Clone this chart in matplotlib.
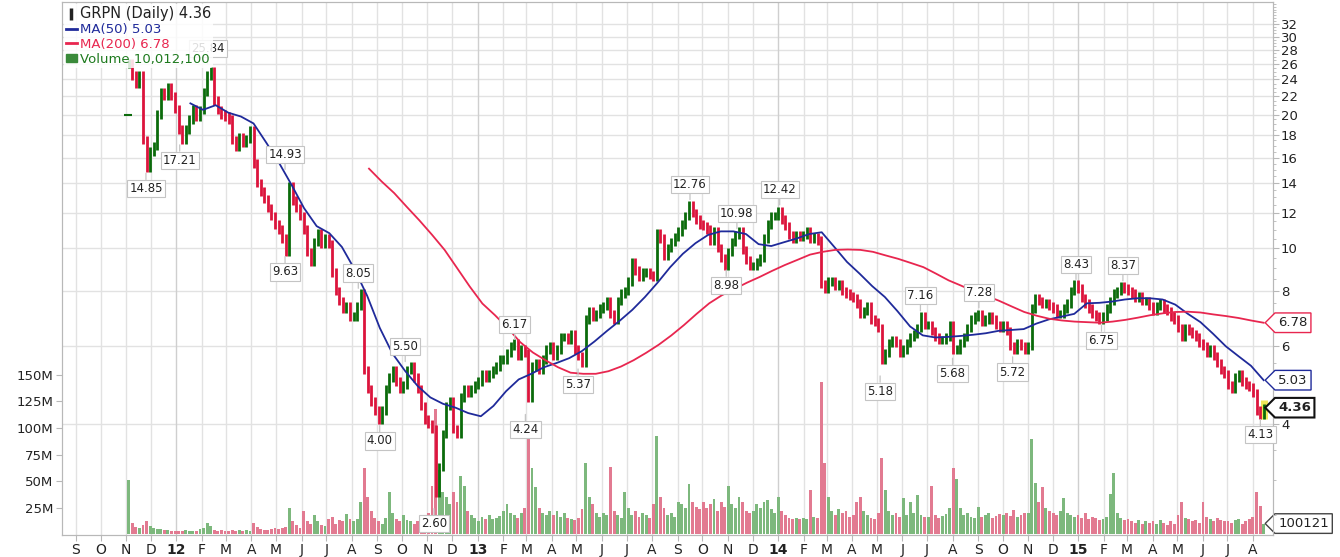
import numpy as np
import pandas as pd
import matplotlib
matplotlib.use('Agg')
import matplotlib.pyplot as plt
import matplotlib.transforms as mtransforms
from matplotlib.lines import Line2D
from matplotlib.patches import Patch
from matplotlib.path import Path
from matplotlib.ticker import FixedLocator, NullFormatter

# Cierres (~7 por mes, desde la IPO del 4 nov 2011 hasta 14 ago 2015)
close_2011 = [26.1, 24.5, 23.5, 24.5, 17.5, 15.2, 16.5,
              17.0, 20.0, 22.5, 22.0, 23.0, 22.0, 20.6]
close_2012 = [18.5, 17.5, 18.5, 19.5, 20.6, 19.8, 20.5,
              22.5, 24.5, 25.0, 21.5, 20.5, 20.0, 19.8,
              19.5, 17.5, 16.9, 17.8, 17.3, 17.6, 18.4,
              15.5, 14.0, 13.4, 12.9, 12.3, 11.8, 11.3,
              11.0, 10.5, 9.8, 13.8, 12.8, 12.3, 11.8,
              11.0, 9.8, 9.3, 10.3, 10.8, 10.2, 10.5,
              10.2, 8.8, 8.0, 7.6, 7.3, 7.4, 7.0,
              7.0, 7.4, 7.9, 5.3, 4.8, 4.5, 4.3,
              4.1, 4.3, 4.8, 5.1, 5.3, 5.0, 4.8,
              4.9, 5.3, 5.4, 5.1, 4.8, 4.4, 4.1,
              4.0, 3.9, 2.8, 3.2, 3.8, 4.4, 4.5,
              3.9, 3.8, 4.6, 4.8, 4.7, 4.8, 4.9]
close_2013 = [5.0, 5.2, 5.1, 5.2, 5.3, 5.4, 5.6,
              5.6, 5.8, 6.0, 6.1, 5.7, 5.9, 5.8,
              4.6, 5.4, 5.5, 5.3, 5.6, 5.9, 6.0,
              5.7, 5.9, 6.3, 6.3, 6.2, 6.4, 5.9,
              5.7, 5.5, 6.9, 7.2, 7.0, 7.1, 7.3,
              7.4, 7.6, 7.1, 6.9, 7.6, 7.9, 8.0,
              8.4, 9.3, 8.9, 8.6, 8.8, 8.8, 8.7,
              8.6, 10.8, 10.5, 9.6, 10.0, 10.3, 10.6,
              10.9, 11.3, 11.8, 12.5, 12.0, 11.6, 11.3,
              11.2, 11.0, 10.4, 10.9, 10.0, 9.5, 9.1,
              9.8, 10.3, 10.7, 10.9, 9.9, 9.4, 9.1,
              9.1, 9.3, 9.5, 10.5, 11.3, 11.8, 11.8]
close_2014 = [12.1, 11.6, 11.2, 10.7, 10.5, 10.7, 10.6,
              10.7, 10.9, 10.5, 10.6, 10.4, 8.3, 8.1,
              8.4, 8.4, 8.2, 8.3, 8.0, 7.9, 7.8,
              7.7, 7.5, 7.1, 7.2, 7.4, 6.9, 6.8,
              6.6, 5.6, 5.8, 6.1, 6.2, 6.1, 5.8,
              5.9, 6.1, 6.3, 6.4, 6.6, 7.0, 6.7,
              6.7, 6.5, 6.3, 6.2, 6.2, 6.3, 6.7,
              5.9, 5.9, 6.1, 6.3, 6.6, 6.9, 7.0,
              7.1, 6.8, 6.9, 7.0, 6.9, 6.7, 6.6,
              6.7, 6.5, 6.0, 5.9, 6.1, 6.0, 5.9,
              6.0, 7.3, 7.7, 7.6, 7.5, 7.5, 7.4,
              7.3, 7.1, 7.1, 7.3, 7.5, 8.0, 8.3]
close_2015 = [8.1, 7.7, 7.5, 7.3, 7.1, 7.0, 6.9,
              7.0, 7.3, 7.6, 7.9, 8.0, 8.2, 8.1,
              8.0, 7.9, 7.7, 7.8, 7.6, 7.6, 7.4,
              7.2, 7.4, 7.5, 7.3, 7.2, 7.0, 6.9,
              6.6, 6.3, 6.6, 6.5, 6.4, 6.3, 6.1,
              6.0, 5.8, 5.9, 5.7, 5.5, 5.3, 5.2,
              4.9, 4.8, 5.1, 5.2, 5.0, 4.9, 4.85,
              4.7, 4.3, 4.2, 4.36]

# Volumen (millones) en las mismas fechas
vol_2011 = [51, 11, 7, 6, 9, 12, 8,
            6, 5, 5, 4, 4, 3, 3]
vol_2012 = [3, 3, 4, 3, 3, 3, 5,
            6, 11, 8, 4, 3, 4, 3,
            3, 4, 3, 4, 3, 4, 3,
            11, 7, 5, 4, 4, 5, 6,
            5, 6, 7, 25, 12, 9, 6,
            22, 12, 10, 18, 12, 9, 8,
            14, 16, 10, 13, 12, 19, 14,
            12, 14, 30, 62, 35, 22, 15,
            12, 10, 15, 40, 20, 14, 12,
            18, 13, 12, 10, 12, 10, 14,
            20, 45, 118, 60, 40, 35, 28,
            40, 30, 55, 45, 22, 18, 15]
vol_2013 = [12, 16, 14, 18, 14, 15, 17,
            22, 28, 20, 18, 15, 20, 25,
            95, 62, 44, 25, 20, 18, 22,
            18, 22, 16, 20, 15, 14, 13,
            15, 24, 67, 35, 28, 20, 16,
            20, 18, 63, 22, 18, 15, 40,
            25, 18, 22, 16, 20, 18, 15,
            28, 92, 35, 25, 18, 20, 16,
            30, 28, 25, 47, 30, 26, 24,
            30, 25, 28, 33, 22, 30, 26,
            45, 28, 25, 35, 30, 22, 20,
            22, 28, 25, 30, 32, 24, 20]
vol_2014 = [35, 22, 18, 15, 14, 15, 14,
            15, 14, 42, 16, 15, 143, 67,
            35, 22, 18, 24, 20, 22, 16,
            18, 30, 35, 22, 18, 15, 14,
            20, 72, 42, 22, 18, 20, 16,
            34, 18, 30, 20, 37, 18, 16,
            16, 45, 18, 15, 17, 19, 25,
            62, 52, 25, 18, 20, 16, 15,
            26, 16, 18, 20, 15, 17, 19,
            18, 20, 17, 23, 16, 18, 20,
            20, 90, 48, 30, 44, 25, 22,
            20, 18, 22, 34, 20, 18, 16]
vol_2015 = [18, 15, 20, 14, 16, 15, 13,
            14, 16, 38, 58, 20, 15, 13,
            14, 12, 11, 13, 10, 12, 11,
            12, 10, 13, 11, 9, 12, 10,
            18, 30, 15, 14, 12, 13, 11,
            30, 16, 14, 12, 15, 13, 12,
            12, 11, 13, 14, 10, 12, 14,
            16, 40, 27, 10.0121]

# Medias moviles (aprox. cada quincena)
ma50 = [21.2, 20.5, 21.0, 20.2, 19.8, 19.1, 17.3, 15.6, 13.9, 12.3, 11.2, 10.8,
        10.05, 8.95, 7.8, 6.6, 5.78, 5.28, 4.88, 4.6, 4.45, 4.36, 4.24, 4.17,
        4.4, 4.75, 5.05, 5.2, 5.38, 5.5, 5.64, 5.85, 6.15, 6.5, 6.85, 7.25,
        7.75, 8.35, 9.05, 9.7, 10.25, 10.7, 10.9, 10.9, 10.75, 10.2, 10.1, 10.3,
        10.5, 10.75, 10.85, 10.05, 9.3, 8.75, 8.2, 7.75, 7.2, 6.65, 6.35, 6.28,
        6.3, 6.33, 6.37, 6.42, 6.5, 6.53, 6.56, 6.75, 6.9, 7.0, 7.1, 7.5,
        7.52, 7.57, 7.65, 7.7, 7.7, 7.65, 7.45, 7.1, 6.8, 6.4, 6.0, 5.7,
        5.42, 5.03]
ma200 = [15.1, 14.13, 13.3, 12.38, 11.54, 10.71, 9.9, 9.0, 8.18, 7.49, 7.05, 6.6,
         6.13, 5.81, 5.58, 5.38, 5.23, 5.2, 5.2, 5.27, 5.4, 5.58, 5.8, 6.05,
         6.35, 6.7, 7.1, 7.5, 7.82, 8.08, 8.35, 8.6, 8.88, 9.15, 9.4, 9.66,
         9.8, 9.9, 9.92, 9.9, 9.8, 9.62, 9.45, 9.25, 9.05, 8.75, 8.45, 8.22,
         7.98, 7.8, 7.6, 7.38, 7.17, 7.03, 6.92, 6.86, 6.82, 6.8, 6.78, 6.82,
         6.88, 6.96, 7.05, 7.12, 7.17, 7.18, 7.15, 7.08, 7.02, 6.95, 6.86, 6.78]

# Maximos y minimos marcados
ann_dates = ['2011-11-25', '2012-01-05', '2012-02-08', '2012-05-12', '2012-05-12',
             '2012-08-09', '2012-09-04', '2012-10-05', '2012-11-09', '2013-02-15',
             '2013-02-28', '2013-05-03', '2013-09-16', '2013-10-30', '2013-11-12',
             '2014-01-03', '2014-05-05', '2014-06-23', '2014-08-01', '2014-09-02',
             '2014-10-13', '2014-12-29', '2015-01-29', '2015-02-24', '2015-08-10']
ann_vals = [14.85, 17.21, 25.84, 14.93, 9.63, 8.05, 4.00, 5.50, 2.60, 6.17,
            4.24, 5.37, 12.76, 8.98, 10.98, 12.42, 5.18, 7.16, 5.68, 7.28,
            5.72, 8.43, 6.75, 8.37, 4.13]
ann_side = ['dn', 'dn', 'up', 'up', 'dn', 'up', 'dn', 'up', 'dn', 'up',
            'dn', 'dn', 'up', 'dn', 'up', 'up', 'dn', 'up', 'dn', 'up',
            'dn', 'up', 'dn', 'up', 'dn']

ipo_date = '2011-11-03'
ipo_price = 20.0

price_ticks = [4, 6, 8, 10, 12, 14, 16, 18, 20, 22, 24, 26, 28, 30, 32]
vol_ticks = [25, 50, 75, 100, 125, 150]

# Colores
green = '#0b6b0b'
red = '#dc143c'
vol_green = '#7db87d'
vol_red = '#e27a91'
blue_ma = '#1f2a9a'
red_ma = '#e8264f'
grid_c = '#e2e2e2'
frame_c = '#b8b8b8'


def tag_box(x0, y0, width, height, mutation_size):
    # caja con punta a la izquierda para los ultimos valores
    pad = 0.25 * mutation_size
    x0, y0 = x0 - pad, y0 - pad
    x1, y1 = x0 + width + 2 * pad, y0 + height + 2 * pad
    tip = (y1 - y0) / 2
    verts = [(x0, y0), (x1, y0), (x1, y1), (x0, y1), (x0 - tip, (y0 + y1) / 2), (x0, y0)]
    return Path(verts, closed=True)


close = np.array(close_2011 + close_2012 + close_2013 + close_2014 + close_2015)
vol = np.array(vol_2011 + vol_2012 + vol_2013 + vol_2014 + vol_2015) * 1e6
dates = pd.date_range('2011-11-04', '2015-08-14', periods=len(close))
ma50_dates = pd.date_range('2012-01-18', '2015-08-14', periods=len(ma50))
ma200_dates = pd.date_range('2012-08-22', '2015-08-14', periods=len(ma200))

prev = np.r_[close[0], close[:-1]]
up = close >= prev
lo = np.minimum(prev, close) / 1.022
hi = np.maximum(prev, close) * 1.022
bar_col = np.where(up, green, red)
vol_col = np.where(up, vol_green, vol_red)

fig = plt.figure(figsize=(13.4, 5.57), dpi=100)
ax_v = fig.add_axes([62 / 1340, 22 / 557, (1272.7 - 62) / 1340, 533 / 557])
ax_p = ax_v.twinx()

# volumen (eje izquierdo)
ax_v.bar(dates, vol, width=3.5, color=vol_col, linewidth=0, zorder=2)
ax_v.set_ylim(-0.75e6, 501e6)
ax_v.set_yticks([v * 1e6 for v in vol_ticks], labels=[f'{v}M' for v in vol_ticks])
ax_v.set_xlim(pd.Timestamp('2011-08-15'), pd.Timestamp('2015-08-25'))

# rejilla horizontal del precio, dibujada detras del volumen
trans = mtransforms.blended_transform_factory(ax_v.transAxes, ax_p.transData)
for p in price_ticks:
    ax_v.plot([0, 1], [p, p], transform=trans, color=grid_c, lw=1, zorder=0)

# meses
months = pd.date_range('2011-09-01', '2015-08-01', freq='MS')
mlabels = [d.strftime('%y') if d.month == 1 else d.strftime('%b')[0] for d in months]
ax_v.set_xticks(months, labels=mlabels)
ax_v.grid(axis='x', color=grid_c, lw=1, zorder=0)
for d, gl, tl in zip(months, ax_v.xaxis.get_gridlines(), ax_v.get_xticklabels()):
    if d.month == 1:
        gl.set_color('#cfcfcf')
        tl.set_fontweight('bold')
        tl.set_fontsize(11)
ax_v.tick_params(axis='x', length=4, color=frame_c, pad=2, labelsize=10, labelcolor='#222222')
ax_v.tick_params(axis='y', length=4, color=frame_c, pad=2, labelsize=9.5, labelcolor='#222222')

# precio (eje derecho, log)
ax_p.set_yscale('log')
ax_p.set_ylim(2.25, 35.9)
ax_p.vlines(dates[-1:], lo[-1:], hi[-1:] * 1.02, color='#f2e85a', lw=5, zorder=2)
ax_p.vlines(dates, lo, hi, colors=bar_col, lw=2.0, zorder=3)
ax_p.plot([pd.Timestamp(ipo_date)], [ipo_price], marker='_', ms=6, mew=1.5, color=green, zorder=3)
ax_p.plot(ma50_dates, ma50, color=blue_ma, lw=1.3, zorder=4)
ax_p.plot(ma200_dates, ma200, color=red_ma, lw=1.3, zorder=4)
ax_p.set_yticks(price_ticks, labels=[str(t) for t in price_ticks])
ax_p.yaxis.set_minor_locator(FixedLocator(np.arange(2.5, 36, 0.5)))
ax_p.yaxis.set_minor_formatter(NullFormatter())
ax_p.tick_params(axis='y', which='major', length=4, color=frame_c, pad=2, labelsize=9.5, labelcolor='#222222')
ax_p.tick_params(axis='y', which='minor', length=2, color=frame_c)

for ax in (ax_v, ax_p):
    for s in ax.spines.values():
        s.set_color(frame_c)

# etiquetas de maximos y minimos
for d, v, side in zip(ann_dates, ann_vals, ann_side):
    off = 12 if side == 'up' else -12
    ax_p.annotate(f'{v:.2f}', xy=(pd.Timestamp(d), v), xytext=(0, off),
                  textcoords='offset points', ha='center', va='center',
                  fontsize=8.5, color='#222222', zorder=6,
                  bbox=dict(boxstyle='square,pad=0.18', fc='white', ec='#c4c4c4', lw=0.8),
                  arrowprops=dict(arrowstyle='-', color='#c4c4c4', lw=0.9, shrinkA=0, shrinkB=1))

# etiquetas del ultimo valor a la derecha
tags = [(ma200[-1], red_ma, 'normal', 1.0), (ma50[-1], blue_ma, 'normal', 1.0),
        (close[-1], '#111111', 'bold', 1.5)]
for v, ec, fw, lw in tags:
    ax_p.annotate(f'{v:.2f}', xy=(1, v), xycoords=('axes fraction', 'data'),
                  xytext=(4, 0), textcoords='offset points', ha='left', va='center',
                  fontsize=9.5, fontweight=fw, color='#222222', zorder=7,
                  bbox=dict(boxstyle=tag_box, fc='white', ec=ec, lw=lw))
ax_v.annotate(f'{vol[-1] / 100:.0f}'[:6], xy=(1, vol[-1]), xycoords=('axes fraction', 'data'),
              xytext=(4, 0), textcoords='offset points', ha='left', va='center',
              fontsize=9.5, color='#222222', annotation_clip=False,
              bbox=dict(boxstyle=tag_box, fc='white', ec='#444444', lw=1))

# leyenda
handles = [Line2D([], [], color='#222222', lw=0, marker='|', ms=9, mew=2.5),
           Line2D([], [], color=blue_ma, lw=2),
           Line2D([], [], color=red_ma, lw=2),
           Patch(color='#3a8a3a')]
labels = [f'GRPN (Daily) {close[-1]:.2f}', f'MA(50) {ma50[-1]:.2f}',
          f'MA(200) {ma200[-1]:.2f}', f'Volume {vol[-1]:,.0f}']
leg = ax_p.legend(handles, labels, loc='upper left', bbox_to_anchor=(0.0, 1.0),
                  fontsize=9.5, handlelength=0.8, handleheight=0.6, handletextpad=0.25,
                  labelspacing=0.15, borderpad=0.15, borderaxespad=0.15,
                  frameon=True, framealpha=0.85, edgecolor='none', facecolor='white')
leg.set_zorder(8)
for t, c in zip(leg.get_texts(), ['#222222', blue_ma, red_ma, '#1e7a1e']):
    t.set_color(c)
leg.get_texts()[0].set_fontsize(10.5)

fig.savefig('out.png', dpi=100, facecolor='white')
